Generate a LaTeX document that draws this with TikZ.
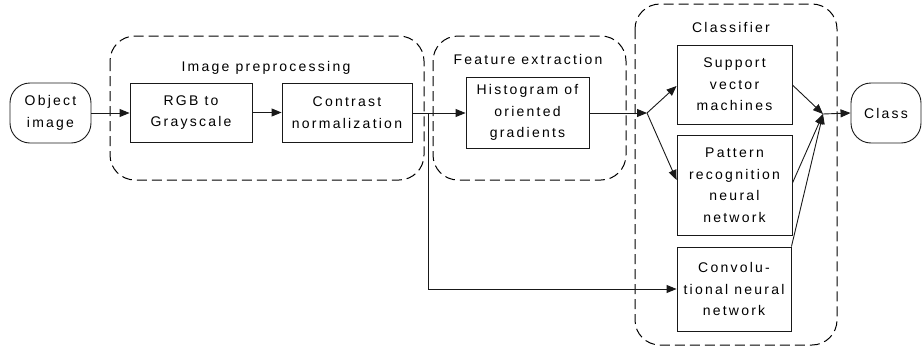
\documentclass[tikz,border=0pt]{standalone}
\usepackage{fontspec}
\setmainfont{Liberation Sans}[LetterSpace=16]
\usetikzlibrary{arrows.meta}

\tikzset{
  ink/.style={draw=black!90, line width=0.9pt},
  proc/.style={ink, rectangle, align=center, inner sep=0pt,
    font=\fontsize{14}{21.5}\selectfont},
  term/.style={proc, rounded corners=20pt},
  group/.style={draw=black, line width=1pt, dash pattern=on 10pt off 5pt,
    rounded corners=25pt},
  grouptitle/.style={inner sep=0pt, font=\fontsize{14}{16}\selectfont},
  flow/.style={ink, -{Triangle[length=10pt,width=8pt]}}
}

\begin{document}
\begin{tikzpicture}[x=1pt, y=-1pt]
  \useasboundingbox (0,0) rectangle (923,351);

  % dashed stage frames
  \draw[group] (110,36) rectangle (424,180);
  \draw[group] (433,36) rectangle (626,180);
  \draw[group] (635,4) rectangle (837,345);

  \node[grouptitle] (tpre) at (266,68) {Image preprocessing};
  \node[grouptitle] (tfeat) at (528,59) {Feature extraction};
  \node[grouptitle] (tcls) at (731,27) {Classifier};

  % blocks
  \node[term, minimum width=81pt, minimum height=60pt] (obj) at (50.5,113) {Object\\image};
  \node[proc, minimum width=122pt, minimum height=59pt] (rgb) at (191,112.5) {RGB to\\Grayscale};
  \node[proc, minimum width=130pt, minimum height=59pt] (con) at (347,112.5) {Contrast\\normalization};
  \node[proc, minimum width=123pt, minimum height=71pt] (hog) at (527.5,112.5) {Histogram of\\oriented\\gradients};
  \node[proc, minimum width=115pt, minimum height=79pt] (svm) at (734.5,84.5) {Support\\vector\\machines};
  \node[proc, minimum width=115pt, minimum height=100pt] (prn) at (734.5,185) {Pattern\\recognition\\neural\\network};
  \node[proc, minimum width=114pt, minimum height=84pt] (cnn) at (734,289) {Convolu-\\tional neural\\network};
  \node[term, minimum width=70pt, minimum height=60pt] (cls) at (886,113) {Class};

  % junction points
  \coordinate (fork) at (428,113);
  \coordinate (split) at (647,113);
  \coordinate (merge) at (823,114);

  % connectors
  \draw[flow] (obj.east) -- (obj.east -| rgb.west);
  \draw[flow] (rgb.east) -- (rgb.east -| con.west);
  \draw[flow] (con.east |- fork) -- (hog.west |- fork);
  \draw[flow] (fork) |- (cnn.west);
  \draw[flow] (hog.east |- split) -- (split);
  \draw[flow] (split) -- (svm.west |- 0,86);
  \draw[flow] (split) -- (prn.west |- 0,180);
  \draw[flow] (svm.east |- 0,85) -- (merge);
  \draw[flow] (prn.east |- 0,183) -- (merge);
  \draw[flow] (cnn.north east) -- (merge);
  \draw[flow] (merge) -- (cls.west);
\end{tikzpicture}
\end{document}
